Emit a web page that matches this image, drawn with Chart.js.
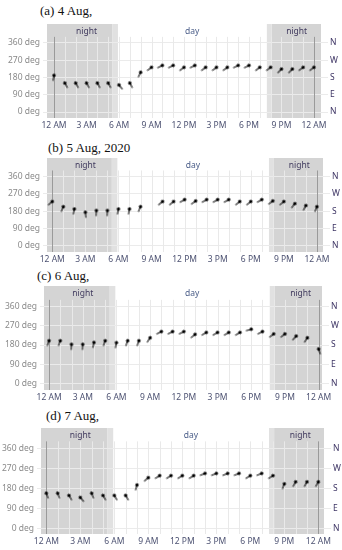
<!DOCTYPE html>
<html lang="en">
<head>
<meta charset="UTF-8">
<title>Wind direction 4-7 Aug</title>
<script src="https://cdn.jsdelivr.net/npm/chart.js"></script>
<style>
    body { margin: 0; background: #fff; width: 342px; height: 550px; position: relative; overflow: hidden; }
    .titulo { position: absolute; font-family: 'Liberation Serif', serif; font-size: 13px; color: #111; white-space: nowrap; }
    .painel { position: absolute; left: 0; width: 342px; }
</style>
</head>
<body>
<div class="titulo" style="left:40px; top:3px">(a) 4 Aug,</div>
<div class="painel" id="p1"><canvas id="g1"></canvas></div>
<div class="titulo" style="left:48px; top:140px">(b) 5 Aug, 2020</div>
<div class="painel" id="p2"><canvas id="g2"></canvas></div>
<div class="titulo" style="left:37px; top:268px">(c) 6 Aug,</div>
<div class="painel" id="p3"><canvas id="g3"></canvas></div>
<div class="titulo" style="left:46px; top:408px">(d) 7 Aug,</div>
<div class="painel" id="p4"><canvas id="g4"></canvas></div>
<script>
    // horas do dia (0 = 12 AM ... 24 = 12 AM do dia seguinte)
    const horas = [0, 1, 2, 3, 4, 5, 6, 7, 8, 9, 10, 11, 12, 13, 14, 15, 16, 17, 18, 19, 20, 21, 22, 23, 24];
    const rotulosX = ['12 AM', '3 AM', '6 AM', '9 AM', '12 PM', '3 PM', '6 PM', '9 PM', '12 AM'];
    const ticksGraus = [0, 90, 180, 270, 360];
    const pontosCardeais = ['N', 'E', 'S', 'W', 'N'];

    // direção do vento (graus) por hora
    const dir4Ago = [191, 151, 151, 151, 151, 151, 141, 151, 207, 233, 243, 243, 233, 243, 233, 233, 233, 243, 243, 233, 233, 224, 224, 233, 233];
    const dir5Ago = [230, 203, 191, 174, 183, 183, 191, 191, 203, null, 230, 230, 240, 233, 240, 240, 240, 230, 230, 240, 233, 230, 219, 209, 203];
    const dir6Ago = [200, 200, 183, 183, 192, 200, 191, 200, 200, 214, 243, 243, 243, 230, 239, 239, 239, 239, 254, 243, 232, 232, 222, 214, 161];
    const dir7Ago = [159, 159, 149, 140, 159, 149, 149, 149, 196, 229, 238, 238, 238, 238, 248, 248, 248, 248, 238, 248, 238, 201, 210, 210, 210];

    // noite / crepúsculo (horas)
    const noiteFimManha = 5.4, nascer = 5.9, por = 19.65, noiteInicio = 20.1;

    // geometria de cada painel: topo, altura da área, limites dos eixos
    const paineis = [
        { id: 'g1', box: 'p1', topo: 24, area: 94, esq: 47, dir: 321, xmin: -0.65, xmax: 24.65, ymin: -31, ymax: 459, dados: dir4Ago },
        { id: 'g2', box: 'p2', topo: 158, area: 94, esq: 47, dir: 323, xmin: -0.48, xmax: 24.55, ymin: -33, ymax: 457, dados: dir5Ago },
        { id: 'g3', box: 'p3', topo: 286, area: 104, esq: 44, dir: 322, xmin: -0.45, xmax: 24.3, ymin: -31, ymax: 457, dados: dir6Ago },
        { id: 'g4', box: 'p4', topo: 428, area: 106, esq: 41, dir: 324, xmin: -0.47, xmax: 24.5, ymin: -24, ymax: 452, dados: dir7Ago }
    ];

    function criarSeta() {
        const c = document.createElement('canvas');
        c.width = 16; c.height = 16;
        const g = c.getContext('2d');
        g.strokeStyle = '#111';
        g.lineWidth = 1.1;
        g.beginPath(); g.moveTo(8, 8); g.lineTo(8, 13.5); g.stroke();
        g.fillStyle = '#000';
        g.beginPath(); g.arc(8, 8, 1.7, 0, Math.PI * 2); g.fill();
        return c;
    }
    const seta = criarSeta();

    const fundoNoite = {
        id: 'fundoNoite',
        beforeDraw(chart) {
            const { ctx, chartArea: a, scales: { x } } = chart;
            const px = v => x.getPixelForValue(v);
            ctx.save();
            ctx.fillStyle = '#d4d4d4';
            ctx.fillRect(a.left, a.top, px(noiteFimManha) - a.left, a.bottom - a.top);
            ctx.fillRect(px(noiteInicio), a.top, a.right - px(noiteInicio), a.bottom - a.top);
            ctx.fillStyle = '#e1e1e1';
            ctx.fillRect(px(noiteFimManha), a.top, px(nascer) - px(noiteFimManha), a.bottom - a.top);
            ctx.fillRect(px(por), a.top, px(noiteInicio) - px(por), a.bottom - a.top);
            ctx.restore();
        },
        beforeDatasetsDraw(chart) {
            const { ctx, chartArea: a, scales: { x, y } } = chart;
            const topoLinhas = y.getPixelForValue(392);
            ctx.save();
            ctx.lineWidth = 1;
            ctx.strokeStyle = '#e9e9e9';
            horas.forEach(h => {
                if (h === 0 || h === 24) return;
                const p = Math.round(x.getPixelForValue(h)) + 0.5;
                ctx.beginPath(); ctx.moveTo(p, topoLinhas); ctx.lineTo(p, a.bottom); ctx.stroke();
            });
            // meia-noite
            ctx.strokeStyle = '#9a9a9a';
            [0, 24].forEach(h => {
                const p = Math.round(x.getPixelForValue(h)) + 0.5;
                ctx.beginPath(); ctx.moveTo(p, topoLinhas); ctx.lineTo(p, a.bottom); ctx.stroke();
            });
            ctx.font = "8.5px 'Noto Sans', sans-serif";
            ctx.textAlign = 'center';
            ctx.textBaseline = 'middle';
            ctx.fillStyle = '#403a5e';
            const yRot = a.top + 8;
            ctx.fillText('night', x.getPixelForValue(3), yRot);
            ctx.fillText('night', x.getPixelForValue(22.4), yRot);
            ctx.fillStyle = '#4a5d88';
            ctx.fillText('day', x.getPixelForValue(12.75), yRot);
            ctx.restore();
        }
    };

    Chart.defaults.font.family = "'Noto Sans', sans-serif";
    Chart.defaults.font.size = 8.5;

    function semPadding(s) {
        s.paddingTop = 0;
        s.paddingBottom = 0;
    }

    function criarPainel(p) {
        const box = document.getElementById(p.box);
        box.style.top = p.topo + 'px';
        box.style.height = (p.area + 15) + 'px';
        const pontos = horas.map((h, i) => ({ x: h, y: p.dados[i] }));
        new Chart(document.getElementById(p.id), {
            type: 'scatter',
            data: {
                datasets: [{
                    data: pontos,
                    pointStyle: seta,
                    rotation: ctx => (ctx.raw && ctx.raw.y != null ? ctx.raw.y - 180 : 0),
                    pointRadius: 3
                }]
            },
            options: {
                responsive: true,
                maintainAspectRatio: false,
                animation: false,
                layout: { padding: 0, autoPadding: false },
                plugins: { legend: { display: false }, tooltip: { enabled: false } },
                scales: {
                    x: {
                        type: 'linear',
                        min: p.xmin, max: p.xmax,
                        afterBuildTicks: s => { s.ticks = horas.filter(h => h % 3 === 0).map(h => ({ value: h })); },
                        afterFit: s => { s.height = 15; s.paddingLeft = 0; s.paddingRight = 0; },
                        grid: { display: false, drawTicks: false },
                        border: { display: false },
                        ticks: {
                            padding: 2, maxRotation: 0, autoSkip: false, color: '#4d5272',
                            callback: v => rotulosX[v / 3]
                        }
                    },
                    y: {
                        position: 'left',
                        min: p.ymin, max: p.ymax,
                        afterBuildTicks: s => { s.ticks = ticksGraus.map(v => ({ value: v })); },
                        afterFit: s => { s.width = p.esq; semPadding(s); },
                        grid: { color: '#ebebeb', tickLength: 4 },
                        border: { display: false },
                        ticks: { color: '#8a8a8a', padding: 3, callback: v => v + ' deg' }
                    },
                    y2: {
                        position: 'right',
                        min: p.ymin, max: p.ymax,
                        afterBuildTicks: s => { s.ticks = ticksGraus.map(v => ({ value: v })); },
                        afterFit: s => { s.width = 342 - p.dir; semPadding(s); },
                        grid: { color: '#ebebeb', drawOnChartArea: false, tickLength: 7 },
                        border: { display: false },
                        ticks: { color: '#3d3464', padding: 2, callback: (v, i) => pontosCardeais[i] }
                    }
                }
            },
            plugins: [fundoNoite]
        });
    }

    paineis.forEach(criarPainel);
</script>
</body>
</html>
